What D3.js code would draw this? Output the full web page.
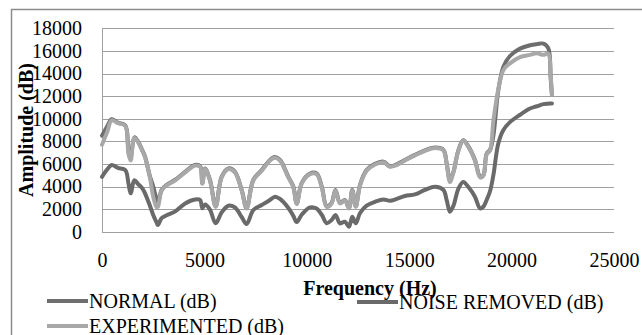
<!DOCTYPE html>
<html>
<head>
<meta charset="utf-8">
<script src="https://cdn.jsdelivr.net/npm/d3@7"></script>
<style>
    body { margin: 0; background: #fff; }
    svg text { font-family: 'Liberation Serif', 'Times New Roman', serif; fill: #000; }
    .grid line { stroke: #a0a0a0; stroke-width: 1; }
    .axis path, .axis line { display: none; }
</style>
</head>
<body>
<div id="chart"></div>
<script>
// ... data (Hz / dB)

const frequency = [
    0, 250, 470, 780, 1140, 1290, 1400, 1580, 1770, 1970, 2100, 2340, 2500, 2670, 2730, 2910,
    3160, 3580, 4060, 4540, 4790, 4900, 5030, 5270, 5550, 5840, 6170, 6490, 6820, 7060, 7390,
    7800, 8200, 8450, 8690, 9100, 9340, 9510, 9750, 10160, 10480, 10730, 10970, 11210, 11400,
    11620, 11860, 12060, 12220, 12390, 12600, 12920, 13330, 13740, 14060, 14390, 14790, 15280,
    15770, 16260, 16670, 16830, 16990, 17160, 17400, 17640, 17890, 18210, 18460, 18620, 18780,
    18950, 19110, 19350, 19600, 19920, 20410, 20900, 21230, 21550, 21790, 21910, 21970
];

const normal = [
    8500, 9300, 9950, 9650, 9400, 7300, 6700, 8350, 7950, 7200, 6650, 4900, 4000, 2800, 2500, 3700,
    4150, 4600, 5300, 5900, 5800, 4300, 5600, 4600, 2250, 4850, 5600, 5300, 3700, 2100, 4600,
    5450, 6350, 6600, 6350, 4850, 4000, 2500, 4300, 5150, 5150, 4000, 2250, 2550, 3700,
    2550, 2800, 2100, 3700, 2250, 4150, 5450, 6000, 6200, 5800, 5950, 6350, 6800,
    7200, 7450, 7250, 6050, 4600, 5300, 7200, 8100, 7550, 6350, 4900, 5000, 6900,
    7250, 8500, 12500, 14600, 15550, 16200, 16500, 16600, 16650, 16250, 13500, 12100
];

const noiseRemoved = [
    4850, 5500, 5900, 5650, 5450, 4300, 3400, 4550, 4200, 3830, 3400, 2300, 1480, 800, 590, 1200,
    1450, 1800, 2500, 2850, 2800, 2070, 2400, 1950, 750, 1700, 2300, 2150, 1300, 680, 1920,
    2360, 2800, 3100, 2900, 2100, 1400, 850, 1500, 2150, 2050, 1500, 750, 1030, 1480,
    740, 885, 440, 1330, 740, 1650, 2300, 2650, 2860, 2740, 2900, 3160, 3300,
    3700, 3980, 3700, 2800, 1770, 2300, 3800, 4400, 3950, 3100, 2070, 2210, 2800,
    3600, 5000, 7800, 9000, 9700, 10350, 10900, 11100, 11290, 11330, 11350, 11350
];

const experimented = [
    7700, 8800, 9850, 9600, 9350, 6900, 6300, 8300, 7900, 7150, 6600, 4800, 3100, 2150, 2200, 3650,
    4100, 4550, 5250, 5850, 5750, 4250, 5550, 4550, 2200, 4800, 5550, 5250, 3650, 2050, 4550,
    5400, 6300, 6550, 6300, 4800, 3950, 2450, 4250, 5100, 5100, 3950, 2200, 2500, 3650,
    2500, 2750, 2050, 3650, 2200, 4100, 5400, 5950, 6150, 5750, 5900, 6300, 6750,
    7150, 7400, 7200, 6000, 4400, 5250, 7150, 8050, 7500, 6300, 4800, 4950, 6850,
    7200, 9800, 12600, 14300, 14900, 15450, 15650, 15800, 15650, 15750, 13700, 12100
];

const seriesNames = ['NORMAL (dB)', 'NOISE REMOVED (dB)', 'EXPERIMENTED (dB)'];
const seriesValues = [normal, noiseRemoved, experimented];
const seriesColors = ['#6e6e6e', '#6a6a6a', '#a8a8a8'];

const yTicks = [0, 2000, 4000, 6000, 8000, 10000, 12000, 14000, 16000, 18000];
const xTicks = [0, 5000, 10000, 15000, 20000, 25000];

// ... chart area

const W = 642, H = 335;
const plot = {left: 102, right: 614, top: 28.3, bottom: 231.7};

const svg = d3.select('#chart').append('svg')
    .attr('width', W)
    .attr('height', H);

svg.append('rect')
    .attr('x', 11.5)
    .attr('y', 9.5)
    .attr('width', 640)
    .attr('height', 340)
    .attr('fill', '#fff')
    .attr('stroke', '#8c8c8c')
    .attr('stroke-width', 1.5);

const x = d3.scaleLinear()
    .domain([0, 25000])
    .range([plot.left, plot.right]);

const y = d3.scaleLinear()
    .domain([0, 18000])
    .range([plot.bottom, plot.top]);

// ... horizontal gridlines

svg.append('g')
    .attr('class', 'grid')
    .selectAll('line')
    .data(yTicks)
    .join('line')
    .attr('x1', plot.left)
    .attr('x2', plot.right)
    .attr('y1', d => Math.round(y(d)) + 0.5)
    .attr('y2', d => Math.round(y(d)) + 0.5);

svg.append('line')
    .attr('x1', plot.left + 0.5)
    .attr('x2', plot.left + 0.5)
    .attr('y1', Math.round(y(18000)) + 0.5)
    .attr('y2', Math.round(y(0)) + 0.5)
    .attr('stroke', '#a0a0a0');

// ... axes

const yAxis = d3.axisLeft(y)
    .tickValues(yTicks)
    .tickSize(0)
    .tickPadding(20)
    .tickFormat(d3.format('d'));

svg.append('g')
    .attr('class', 'y axis')
    .attr('transform', 'translate(' + plot.left + ',0)')
    .call(yAxis)
    .selectAll('text')
    .style('font-size', '20px');

const xAxis = d3.axisBottom(x)
    .tickValues(xTicks)
    .tickSize(0)
    .tickPadding(21)
    .tickFormat(d3.format('d'));

svg.append('g')
    .attr('class', 'x axis')
    .attr('transform', 'translate(0,' + plot.bottom + ')')
    .call(xAxis)
    .selectAll('text')
    .style('font-size', '20px');

// ... axis titles

svg.append('text')
    .attr('x', 370)
    .attr('y', 295)
    .style('text-anchor', 'middle')
    .style('font-size', '20px')
    .style('font-weight', 'bold')
    .text('Frequency (Hz)');

svg.append('text')
    .attr('transform', 'translate(33,130) rotate(270)')
    .style('text-anchor', 'middle')
    .style('font-size', '20px')
    .style('font-weight', 'bold')
    .text('Amplitude (dB)');

// ... series lines

const line = d3.line()
    .x((d, i) => x(frequency[i]))
    .y(d => y(d))
    .curve(d3.curveCatmullRom);

svg.append('g')
    .selectAll('path')
    .data(seriesValues)
    .join('path')
    .attr('d', line)
    .attr('fill', 'none')
    .attr('stroke', (d, i) => seriesColors[i])
    .attr('stroke-width', 4)
    .attr('stroke-linejoin', 'round')
    .attr('stroke-linecap', 'round');

// ... legend

const legendPos = [[47, 301], [357, 302], [47, 326]];

const legend = svg.append('g')
    .selectAll('g')
    .data(seriesNames)
    .join('g')
    .attr('transform', (d, i) => 'translate(' + legendPos[i][0] + ',' + legendPos[i][1] + ')');

legend.append('line')
    .attr('x1', 0)
    .attr('x2', 41)
    .attr('stroke', (d, i) => seriesColors[i])
    .attr('stroke-width', 4);

legend.append('text')
    .attr('x', 42)
    .attr('y', 7)
    .style('font-size', '20px')
    .text(d => d);
</script>
</body>
</html>
